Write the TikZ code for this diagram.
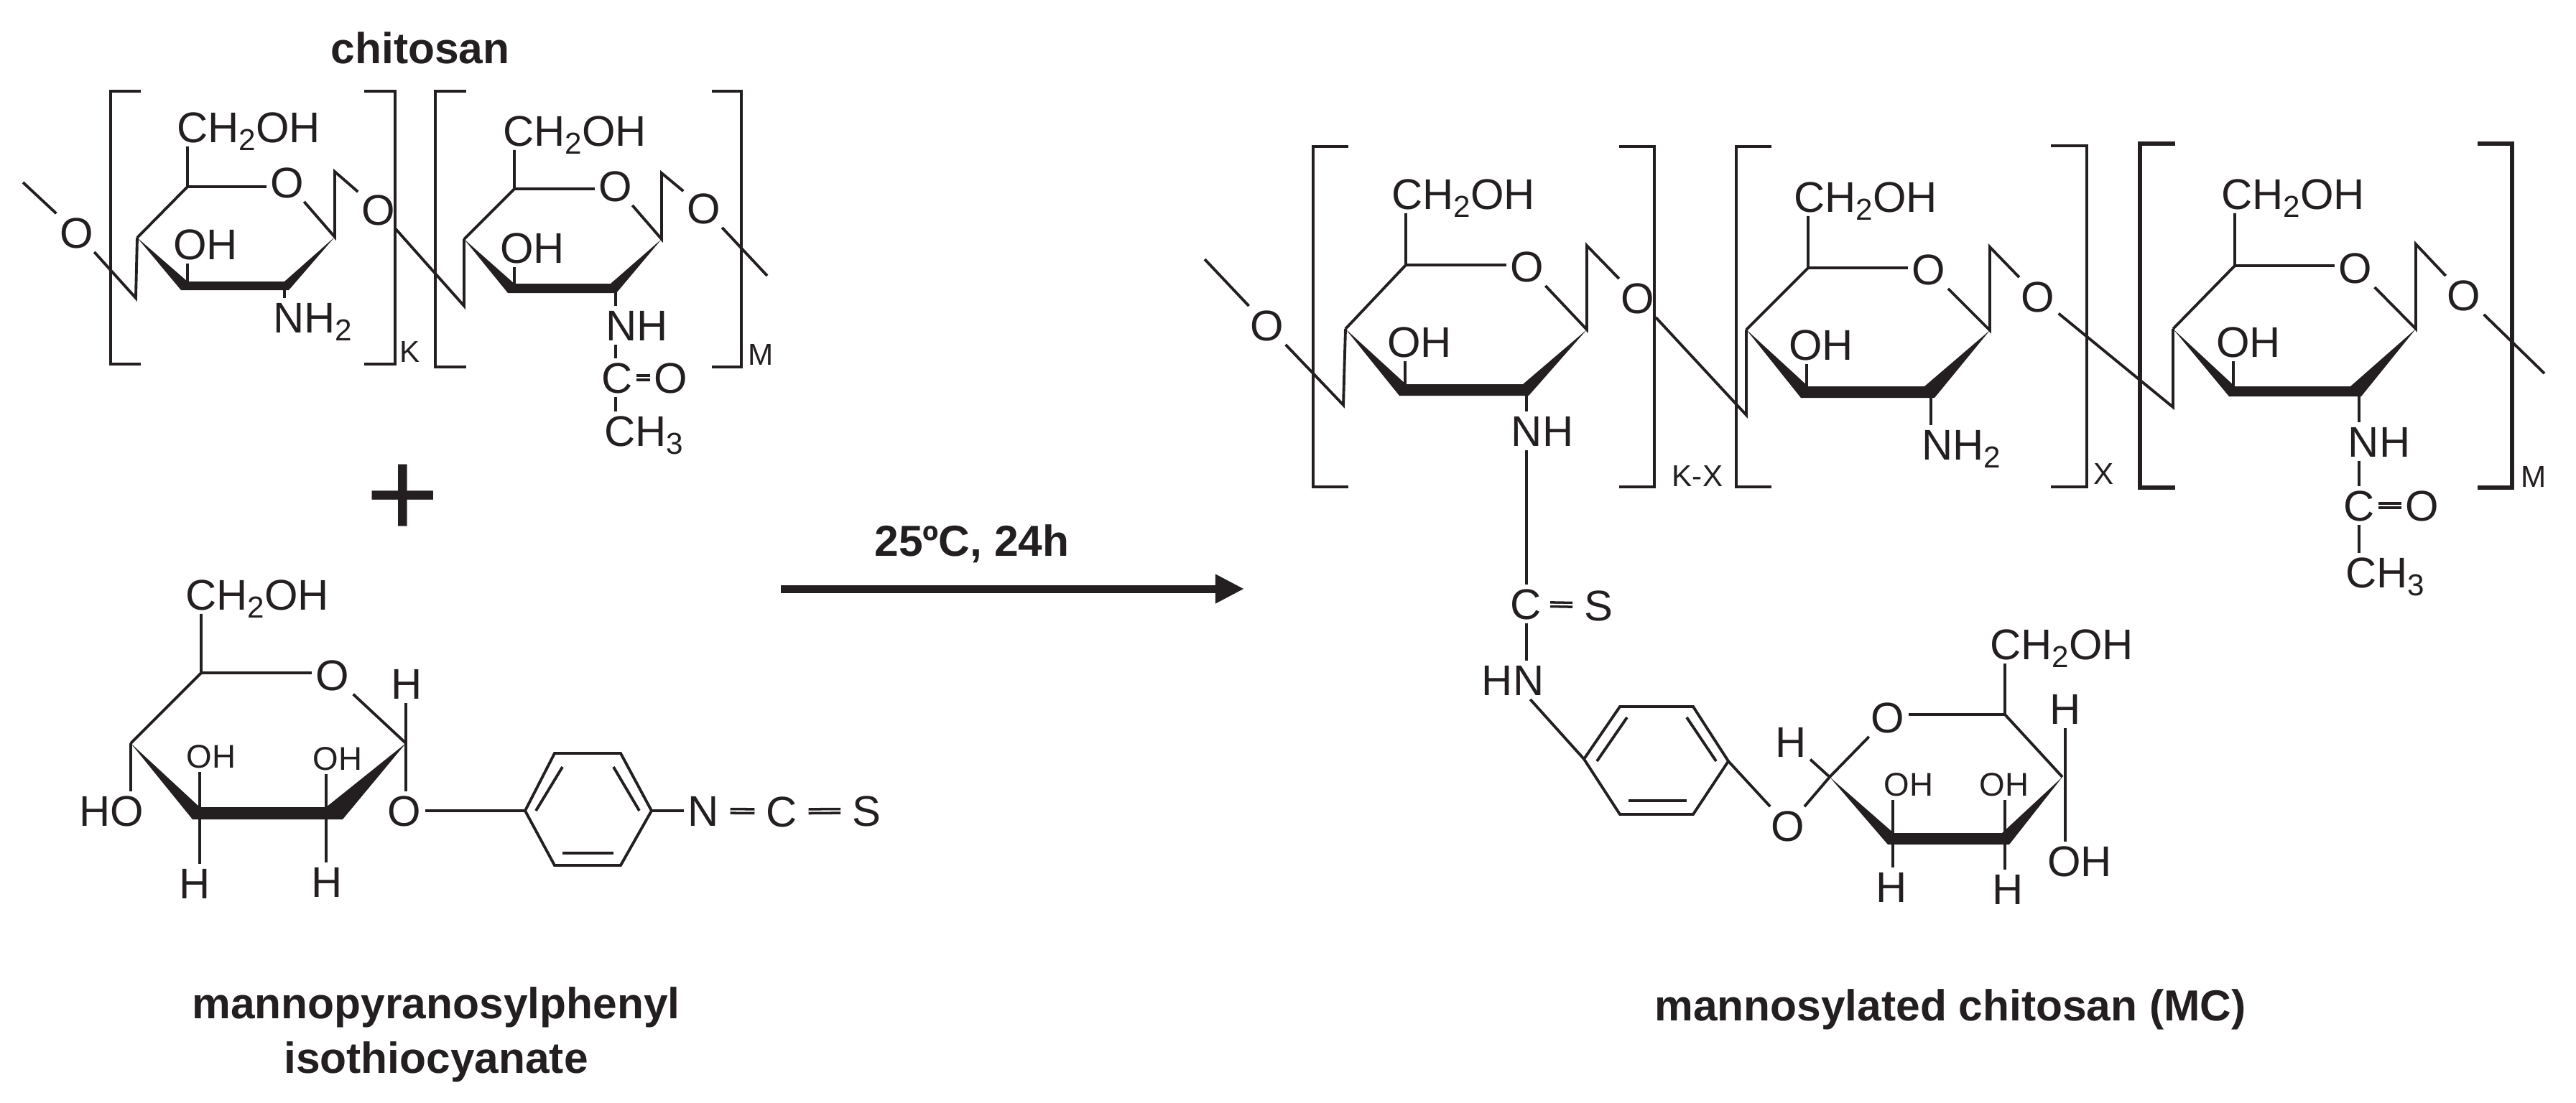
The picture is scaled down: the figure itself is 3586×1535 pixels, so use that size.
\documentclass[tikz,border=0pt]{standalone}
\usepackage{fontspec}
\setmainfont{Liberation Sans}
\usetikzlibrary{arrows.meta}
\definecolor{ink}{HTML}{231F20}
\newcommand{\lowsub}[1]{\raisebox{-3.2pt}{\fontsize{12}{12}\selectfont #1}}

\begin{document}
\begin{tikzpicture}[x=0.01cm, y=-0.01cm, color=ink, line width=1.1pt,
  atom/.style = {inner sep=1pt, text height=12.2pt, text depth=0pt, font=\fontsize{17}{17}\selectfont},
  smallatom/.style = {inner sep=1pt, text height=9.4pt, text depth=0pt, font=\fontsize{13}{13}\selectfont},
  rep/.style = {inner sep=0pt, text height=8.7pt, text depth=0pt, font=\fontsize{12}{12}\selectfont},
  title/.style = {inner sep=0pt, align=center, font=\fontsize{17.2}{21.5}\selectfont\bfseries},
  dbl/.style = {line width=1pt, double=white, double distance=0.6pt},
  wedge/.style = {fill=ink, draw=none}]
\useasboundingbox (0,0) rectangle (3586,1535);

\node[title] (chitosan) at (585,67) {chitosan};
\node[title] (mannoname) at (607,1441) {mannopyranosylphenyl\\isothiocyanate};
\node[title] (mcname) at (2715,1406) {mannosylated chitosan (MC)};
\node[title] (cond) at (1353,757) {25ºC, 24h};
\node[inner sep=0pt, font=\fontsize{50}{50}\selectfont] (plus) at (561,698) {+};

\coordinate (arrowa) at (1087,820);
\coordinate (arrowb) at (1732,820);
\draw[line width=0.11cm, -{Triangle[length=0.4cm, width=0.38cm]}] (arrowa) -- (arrowb);

\draw (196,127) -| (154,507) -- (196,507);
\draw (507,127) -| (550,507) -- (507,507);
\draw (649,127) -| (606,511) -- (649,511);
\draw (991,127) -| (1032,511) -- (991,511);
\node[rep] (repk) at (571,489) {K};
\node[rep] (repm) at (1059,493) {M};

\coordinate (k5) at (261,260);
\coordinate (k1) at (466,330);
\coordinate (k2) at (396,398);
\coordinate (k3) at (261,398);
\coordinate (k4) at (191,331);
\coordinate (k1up) at (466,239);
\coordinate (k4dn) at (189,415);
\coordinate (kfree) at (32,254);
\node[atom] (kleft) at (107,324) {O};
\node[atom] (ko) at (400,254) {O};
\node[atom] (kbr) at (527,292) {O};
\node[atom] (kch) at (346,177) {CH\lowsub{2}OH};
\node[atom] (koh) at (286,340) {OH};
\node[atom] (knh) at (435,442) {NH\lowsub{2}};
\fill[wedge] (k4) -- (261,392) -- (396,392) -- (k1) -- (402,404) -- (252,404) -- cycle;
\draw (kfree) -- (kleft);
\draw (kleft) -- (k4dn) -- (k4);
\draw (k4) -- (k5) -- (k5 |- kch.south);
\draw (k5) -- (k5 -| ko.west);
\draw (ko) -- (k1) -- (k1up) -- (kbr);
\draw (k3) -- (k3 |- koh.south);
\draw (k2) -- (k2 |- knh.north);

\coordinate (m5) at (716,263);
\coordinate (m1) at (921,333);
\coordinate (m2) at (857,402);
\coordinate (m3) at (716,402);
\coordinate (m4) at (646,333);
\coordinate (m1up) at (921,241);
\coordinate (m4dn) at (646,426);
\coordinate (mfree) at (1068,384);
\node[atom] (mo) at (857,259) {O};
\node[atom] (mbr) at (980,290) {O};
\node[atom] (mch) at (800,182) {CH\lowsub{2}OH};
\node[atom] (moh) at (741,345) {OH};
\node[atom] (mnh) at (887,453) {NH};
\node[atom] (mc) at (859,526) {C};
\node[atom] (mdo) at (934,526) {O};
\node[atom] (mch3) at (896,600) {CH\lowsub{3}};
\fill[wedge] (m4) -- (716,395) -- (850,395) -- (m1) -- (858,408) -- (707,408) -- cycle;
\draw (kbr) -- (m4dn) -- (m4);
\draw (m4) -- (m5) -- (m5 |- mch.south);
\draw (m5) -- (m5 -| mo.west);
\draw (mo) -- (m1) -- (m1up) -- (mbr);
\draw (mbr) -- (mfree);
\draw (m3) -- (m3 |- moh.south);
\draw (m2) -- (m2 |- mnh.north);
\draw (m2 |- mnh.south) -- (m2 |- mc.north);
\draw (m2 |- mc.south) -- (m2 |- mch3.north);
\draw[dbl] (mc) -- (mdo);

\coordinate (s5) at (280,937);
\coordinate (s1) at (565,1035);
\coordinate (s2) at (454,1132);
\coordinate (s3) at (278,1132);
\coordinate (s4) at (182,1035);
\node[atom] (sch) at (358,828) {CH\lowsub{2}OH};
\node[atom] (so) at (463,940) {O};
\node[atom] (sh) at (566,952) {H};
\node[atom] (sglyc) at (563,1129) {O};
\node[atom] (sho) at (155,1129) {HO};
\node[smallatom] (soh3) at (294,1053) {OH};
\node[smallatom] (soh2) at (470,1056) {OH};
\node[atom] (sh3) at (271,1230) {H};
\node[atom] (sh2) at (455,1228) {H};
\fill[wedge] (s4) -- (278,1124) -- (454,1124) -- (s1) -- (477,1141) -- (268,1141) -- cycle;
\draw (s4) -- (s5) -- (s5 |- sch.south);
\draw (s5) -- (s5 -| so.west);
\draw (so) -- (s1);
\draw (s1 |- sh.south) -- (s1 |- sglyc.north);
\draw (s4) -- (s4 |- sho.north);
\draw (s3) -- (s3 |- soh3.south);
\draw (s2) -- (s2 |- soh2.south);
\draw (s3) -- (s3 |- sh3.north);
\draw (s2) -- (s2 |- sh2.north);

\coordinate (pl) at (731,1129);
\coordinate (ptl) at (772,1049);
\coordinate (ptr) at (864,1049);
\coordinate (pr) at (907,1129);
\coordinate (pbr) at (864,1205);
\coordinate (pbl) at (772,1205);
\coordinate (pia) at (783,1068);
\coordinate (pib) at (746,1129);
\coordinate (pic) at (854,1068);
\coordinate (pid) at (890,1129);
\coordinate (pie) at (783,1188);
\coordinate (pif) at (854,1188);
\draw (pl) -- (ptl) -- (ptr) -- (pr) -- (pbr) -- (pbl) -- cycle;
\draw (pia) -- (pib);
\draw (pic) -- (pid);
\draw (pie) -- (pif);
\node[atom] (sn) at (979,1129) {N};
\node[atom] (sc) at (1088,1130) {C};
\node[atom] (ss) at (1206,1129) {S};
\draw[line width=1.3pt] (sglyc.east) -- (pl);
\draw (pr) -- (sn);
\draw[dbl, shorten <=3pt, shorten >=3pt] (sn) -- (sc);
\draw[dbl, shorten <=3pt, shorten >=3pt] (sc) -- (ss);

\draw (1877,204) -| (1828,678) -- (1877,678);
\draw (2254,204) -| (2303,678) -- (2254,678);
\draw (2466,204) -| (2417,678) -- (2466,678);
\draw (2855,203) -| (2905,678) -- (2855,678);
\draw[line width=1.6pt] (3028,200) -| (2979,679) -- (3028,679);
\draw[line width=1.6pt] (3449,200) -| (3497,679) -- (3449,679);
\node[rep] (repkx) at (2363,662) {K-X};
\node[rep] (repx) at (2929,659) {X};
\node[rep] (repm2) at (3527,663) {M};

\coordinate (a5) at (1957,369);
\coordinate (a1) at (2209,459);
\coordinate (a2) at (2125,543);
\coordinate (a3) at (1956,543);
\coordinate (a4) at (1873,458);
\coordinate (a1up) at (2209,342);
\coordinate (a4dn) at (1870,564);
\coordinate (afree) at (1677,361);
\node[atom] (aleft) at (1764,453) {O};
\node[atom] (ao) at (2126,371) {O};
\node[atom] (abr) at (2280,415) {O};
\node[atom] (ach) at (2037,270) {CH\lowsub{2}OH};
\node[atom] (aoh) at (1976,476) {OH};
\node[atom] (anh) at (2147,600) {NH};
\node[atom] (ac) at (2124,841) {C};
\node[atom] (as) at (2225,843) {S};
\node[atom] (ahn) at (2106,947) {HN};
\fill[wedge] (a4) -- (1957,535) -- (2120,535) -- (a1) -- (2128,551) -- (1948,551) -- cycle;
\draw (afree) -- (aleft);
\draw (aleft) -- (a4dn) -- (a4);
\draw (a4) -- (a5) -- (a5 |- ach.south);
\draw (a5) -- (a5 -| ao.west);
\draw (ao) -- (a1) -- (a1up) -- (abr);
\draw (a3) -- (a3 |- aoh.south);
\draw (a2) -- (a2 |- anh.north);
\draw (a2 |- anh.south) -- (a2 |- ac.north);
\draw (a2 |- ac.south) -- (a2 |- ahn.north);
\draw[dbl, shorten <=2pt, shorten >=3pt] (ac) -- (as);

\coordinate (b5) at (2517,373);
\coordinate (b1) at (2770,460);
\coordinate (b2) at (2688,546);
\coordinate (b3) at (2515,546);
\coordinate (b4) at (2431,459);
\coordinate (b1up) at (2770,344);
\coordinate (b4dn) at (2431,578);
\node[atom] (bo) at (2685,375) {O};
\node[atom] (bbr) at (2837,413) {O};
\node[atom] (bch) at (2597,274) {CH\lowsub{2}OH};
\node[atom] (boh) at (2535,480) {OH};
\node[atom] (bnh) at (2730,619) {NH\lowsub{2}};
\fill[wedge] (b4) -- (2517,538) -- (2679,538) -- (b1) -- (2693,554) -- (2507,554) -- cycle;
\draw (abr) -- (b4dn) -- (b4);
\draw (b4) -- (b5) -- (b5 |- bch.south);
\draw (b5) -- (b5 -| bo.west);
\draw (bo) -- (b1) -- (b1up) -- (bbr);
\draw (b3) -- (b3 |- boh.south);
\draw (b2) -- (b2 |- bnh.north);

\coordinate (c5) at (3111,370);
\coordinate (c1) at (3363,458);
\coordinate (c2) at (3284,547);
\coordinate (c3) at (3109,547);
\coordinate (c4) at (3025,458);
\coordinate (c1up) at (3363,340);
\coordinate (c4dn) at (3025,567);
\coordinate (cfree) at (3542,520);
\node[atom] (co) at (3279,373) {O};
\node[atom] (cbr) at (3430,411) {O};
\node[atom] (cch) at (3192,270) {CH\lowsub{2}OH};
\node[atom] (coh) at (3130,476) {OH};
\node[atom] (cnh) at (3312,615) {NH};
\node[atom] (cc) at (3284,704) {C};
\node[atom] (cdo) at (3372,704) {O};
\node[atom] (cch3) at (3320,797) {CH\lowsub{3}};
\fill[wedge] (c4) -- (3111,538) -- (3272,538) -- (c1) -- (3287,552) -- (3103,552) -- cycle;
\draw (bbr) -- (c4dn) -- (c4);
\draw (c4) -- (c5) -- (c5 |- cch.south);
\draw (c5) -- (c5 -| co.west);
\draw (co) -- (c1) -- (c1up) -- (cbr);
\draw (cbr) -- (cfree);
\draw (c3) -- (c3 |- coh.south);
\draw (c2) -- (c2 |- cnh.north);
\draw (c2 |- cnh.south) -- (c2 |- cc.north);
\draw (c2 |- cc.south) -- (c2 |- cch3.north);
\draw[dbl] (cc) -- (cdo);

\coordinate (ql) at (2205,1057);
\coordinate (qtl) at (2255,984);
\coordinate (qtr) at (2357,984);
\coordinate (qr) at (2406,1060);
\coordinate (qbr) at (2357,1134);
\coordinate (qbl) at (2255,1134);
\coordinate (qia) at (2265,999);
\coordinate (qib) at (2223,1060);
\coordinate (qic) at (2348,999);
\coordinate (qid) at (2389,1060);
\coordinate (qie) at (2267,1115);
\coordinate (qif) at (2348,1115);
\draw (ql) -- (qtl) -- (qtr) -- (qr) -- (qbr) -- (qbl) -- cycle;
\draw (qia) -- (qib);
\draw (qic) -- (qid);
\draw (qie) -- (qif);
\draw (ahn) -- (ql);

\coordinate (t1) at (2547,1082);
\coordinate (t2) at (2791,1168);
\coordinate (t3) at (2635,1168);
\coordinate (t4) at (2871,1082);
\coordinate (t5) at (2791,995);
\node[atom] (tglyc) at (2489,1150) {O};
\node[atom] (thtop) at (2493,1033) {H};
\node[atom] (to) at (2628,999) {O};
\node[atom] (tch) at (2870,897) {CH\lowsub{2}OH};
\node[atom] (th4) at (2875,987) {H};
\node[atom] (toh4) at (2895,1199) {OH};
\node[smallatom] (toh3) at (2657,1092) {OH};
\node[smallatom] (toh2) at (2790,1092) {OH};
\node[atom] (th3) at (2633,1235) {H};
\node[atom] (th2) at (2795,1238) {H};
\fill[wedge] (t1) -- (2636,1160) -- (2787,1160) -- (t4) -- (2797,1176) -- (2628,1176) -- cycle;
\draw (qr) -- (tglyc);
\draw (tglyc) -- (t1);
\draw (thtop) -- (t1);
\draw (to) -- (t1);
\draw (t5 -| to.east) -- (t5) -- (t5 |- tch.south);
\draw (t5) -- (t4);
\draw (th4) -- (th4 |- toh4.north);
\draw (t3) -- (t3 |- toh3.south);
\draw (t2) -- (t2 |- toh2.south);
\draw (t3) -- (t3 |- th3.north);
\draw (t2) -- (t2 |- th2.north);
\end{tikzpicture}
\end{document}
